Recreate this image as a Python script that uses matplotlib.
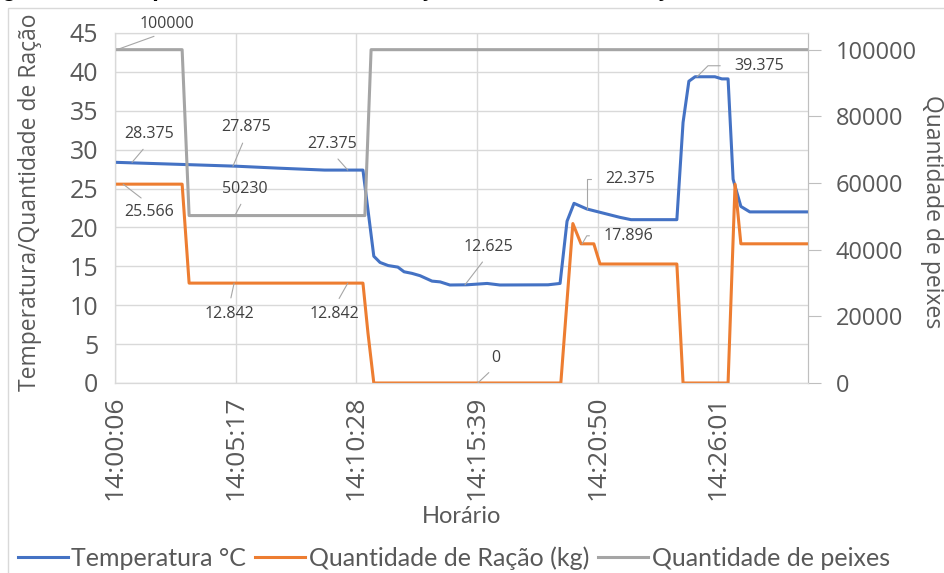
import matplotlib
matplotlib.use("Agg")
import matplotlib.pyplot as plt
from matplotlib.patches import Rectangle

# tempos em segundos a partir de 14:00:06
temp_t = [0, 173, 312, 420, 540, 639, 667, 683, 704, 729, 745, 765, 786, 817, 838,
          863, 907, 959, 992, 1116, 1147, 1165, 1183, 1216, 1301, 1330, 1448, 1464,
          1479, 1495, 1546, 1564, 1580, 1593, 1613, 1636, 1786]
temp_v = [28.375, 28.1, 27.875, 27.625, 27.375, 27.375, 16.3, 15.5, 15.1, 14.9, 14.3,
          14.1, 13.8, 13.1, 13.0, 12.6, 12.625, 12.8, 12.6, 12.625, 12.8, 20.8, 23.1,
          22.375, 21.3, 21.0, 21.0, 33.5, 38.8, 39.375, 39.375, 39.1, 39.1, 26.2, 22.7,
          22.0, 22.0]

racao_t = [0, 173, 191, 639, 652, 667, 1149, 1180, 1201, 1234, 1250, 1448, 1464, 1580,
           1598, 1613, 1786]
racao_v = [25.566, 25.566, 12.842, 12.842, 6.4, 0, 0, 20.5, 17.896, 17.896, 15.3, 15.3,
           0, 0, 25.566, 17.896, 17.896]

peixes_t = [0, 173, 191, 644, 660, 1786]
peixes_v = [100000, 100000, 50230, 50230, 100000, 100000]

tick_pos = [0, 311, 622, 933, 1244, 1555]
tick_labels = ["14:00:06", "14:05:17", "14:10:28", "14:15:39", "14:20:50", "14:26:01"]

AZUL = "#4472C4"
LARANJA = "#ED7D31"
CINZA = "#A5A5A5"
TXT = "#595959"

fig = plt.figure(figsize=(9.45, 5.73), dpi=100)
fig.patches.append(Rectangle((8 / 945, -0.01), 1.0, 1 - 8 / 573 + 0.01,
                             transform=fig.transFigure, fill=False,
                             edgecolor="#d9d9d9", lw=1.0))
# título cortado no topo
fig.text(-0.02, 1 + 4 / 573, "Figura 8 – Comportamento da alimentação durante a simulação do sistema",
         fontsize=17, fontweight="bold", family="Liberation Sans", va="baseline", ha="left")

ax = fig.add_axes([115 / 945, 1 - 383 / 573, 693 / 945, 350 / 573])
ax2 = ax.twinx()

l1, = ax.plot(temp_t, temp_v, color=AZUL, lw=2.2, zorder=3)
l2, = ax.plot(racao_t, racao_v, color=LARANJA, lw=2.2, zorder=3)
l3, = ax2.plot(peixes_t, peixes_v, color=CINZA, lw=2.2, zorder=2)

ax.set_xlim(0, 1786)
ax.set_ylim(0, 45)
ax2.set_ylim(0, 105000)
ax.set_yticks(range(0, 46, 5))
ax2.set_yticks(range(0, 100001, 20000))
ax.set_xticks(tick_pos)
ax.set_xticklabels(tick_labels, rotation=90)

ax.grid(True, color="#d9d9d9", lw=1.0)
ax.set_axisbelow(True)
for a in (ax, ax2):
    for s in a.spines.values():
        s.set_color("#d9d9d9")
ax.spines["left"].set_color("#bfbfbf")
ax.spines["bottom"].set_color("#bfbfbf")
ax2.spines["right"].set_color("#bfbfbf")

ax.tick_params(axis="y", length=0, pad=12, labelsize=18, labelcolor=TXT)
ax.tick_params(axis="x", length=0, pad=9, labelsize=19, labelcolor=TXT)
ax2.tick_params(axis="y", length=9, color="#bfbfbf", pad=11, labelsize=17, labelcolor=TXT)
for lab in ax.get_xticklabels() + ax.get_yticklabels() + ax2.get_yticklabels():
    lab.set_family("Open Sans")

ax.set_ylabel("Temperatura/Quantidade de Ração", fontsize=16.5, color=TXT,
              family="Open Sans", va="center")
ax.yaxis.set_label_coords((30 - 115) / 693, (383 - 202) / 350)
ax2.set_ylabel("Quantidade de peixes", fontsize=16.5, color=TXT, family="Open Sans",
               rotation=270, va="center")
ax2.yaxis.set_label_coords((932 - 115) / 693, 0.49)
ax.set_xlabel("Horário", fontsize=17, color=TXT, family="Lato", labelpad=4)

# rótulos de dados: (eixo, t, valor, texto, dx, dy, relpos, conexão)
rotulos = [
    (ax2, 5, 100000, "100000", 50, 26, (0.5, 0), None),
    (ax, 44, 28.375, "28.375", 17, 28, (0.5, 0), None),
    (ax, 304, 27.875, "27.875", 13, 39, (0.5, 0), None),
    (ax, 600, 27.375, "27.375", -16, 26, (0.5, 0), None),
    (ax2, 309, 50230, "50230", 10, 27, (0.5, 0), None),
    (ax, 21, 25.566, "25.566", 26, -28, (0.5, 1), None),
    (ax, 307, 12.842, "12.842", -5, -31, (0.5, 1), None),
    (ax, 600, 12.842, "12.842", -13, -31, (0.5, 1), None),
    (ax, 902, 12.625, "12.625", 23, 38, (0.5, 0), None),
    (ax, 935, 0, "0", 18, 25, (0.5, 0), None),
    (ax, 1216, 22.375, "22.375", 43, 30, (0, 0.5), "angle,angleA=0,angleB=90,rad=0"),
    (ax, 1204, 17.896, "17.896", 46, 8, (0, 0.5), "angle,angleA=0,angleB=60,rad=0"),
    (ax, 1500, 39.375, "39.375", 62, 11, (0, 0.5), "angle,angleA=0,angleB=45,rad=0"),
]
for eixo, t, v, txt, dx, dy, rp, con in rotulos:
    props = dict(arrowstyle="-", color="#a6a6a6", lw=0.8, relpos=rp,
                 shrinkA=4, shrinkB=0)
    if con:
        props["connectionstyle"] = con
        props["shrinkA"] = 8
    eixo.annotate(txt, xy=(t, v), xytext=(dx, dy), textcoords="offset pixels",
                  ha="center", va="center", fontsize=11.5, color="#404040",
                  family="Open Sans", arrowprops=props, zorder=5,
                  annotation_clip=False)

leg = fig.legend([l1, l2, l3],
                 ["Temperatura °C", "Quantidade de Ração (kg)", "Quantidade de peixes"],
                 loc="center", bbox_to_anchor=(0.48, 1 - 558 / 573), ncol=3,
                 frameon=False, handlelength=2.0, handletextpad=0.15,
                 columnspacing=0.35, prop={"family": "Lato", "size": 18})
for t in leg.get_texts():
    t.set_color(TXT)

fig.savefig("out.png", dpi=100)
